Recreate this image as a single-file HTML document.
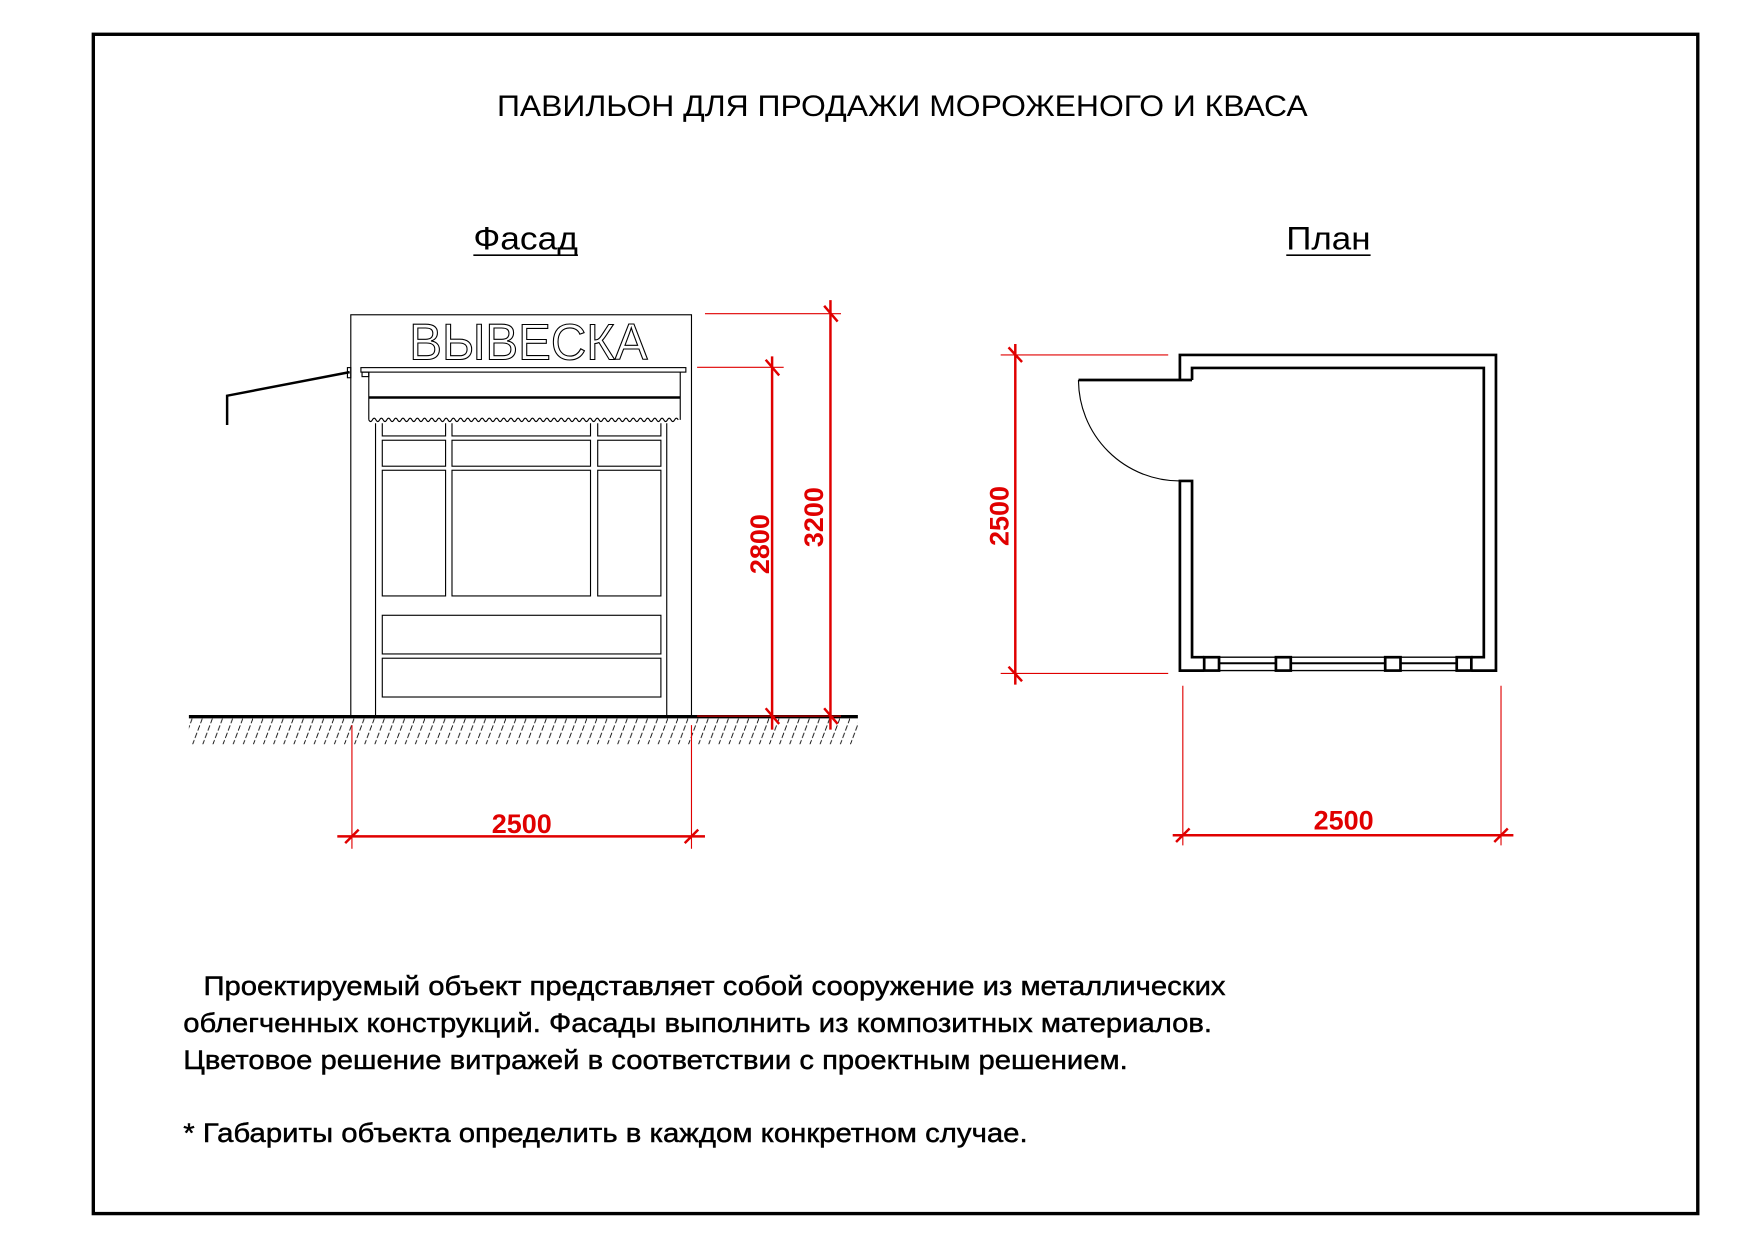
<!DOCTYPE html>
<html><head><meta charset="utf-8"><style>html,body{margin:0;padding:0;background:#fff}svg{display:block}</style></head>
<body>
<svg width="1754" height="1240" viewBox="0 0 1560 1103" preserveAspectRatio="none" xmlns="http://www.w3.org/2000/svg" font-family="'Liberation Sans Narrow','Liberation Sans',sans-serif">
<defs>
<pattern id="h" width="9" height="24" patternUnits="userSpaceOnUse" patternTransform="translate(0,639)">
<line x1="0" y1="24" x2="9" y2="0" stroke="#000" stroke-width="0.8" stroke-dasharray="5 2"/>
</pattern>
</defs>
<rect x="0" y="0" width="1560" height="1103" fill="#fff"/>
<rect x="83" y="30.5" width="1427" height="1049" fill="none" stroke="#000" stroke-width="3"/>
<text x="442" y="103" font-size="26" textLength="721" lengthAdjust="spacingAndGlyphs" font-family="'Liberation Sans',sans-serif">ПАВИЛЬОН ДЛЯ ПРОДАЖИ МОРОЖЕНОГО И КВАСА</text>
<text x="421" y="222" font-size="29" textLength="93" lengthAdjust="spacingAndGlyphs">Фасад</text>
<line x1="421" y1="227" x2="514" y2="227" stroke="#000" stroke-width="1.5"/>
<text x="1144" y="222" font-size="29" textLength="75" lengthAdjust="spacingAndGlyphs">План</text>
<line x1="1144" y1="227" x2="1219" y2="227" stroke="#000" stroke-width="1.5"/>

<!-- Facade -->
<g fill="none" stroke="#000" stroke-width="1">
<rect x="312" y="280" width="303" height="357"/>
<text x="364" y="320" font-size="45" textLength="212" lengthAdjust="spacingAndGlyphs" fill="#fff" stroke="#000" stroke-width="1" font-family="'Liberation Sans',sans-serif">ВЫВЕСКА</text>
<rect x="321" y="327" width="289" height="4" fill="#fff"/>
<rect x="322" y="331" width="6" height="4"/>
<rect x="309" y="327" width="3" height="9"/>
<path d="M328 331 V373.5 M605 331 V373.5"/>
<line x1="328" y1="353.6" x2="605" y2="353.6" stroke-width="2.2"/>
<path d="M328 373.5 q1.6 3 3.2 0 t3.2 0 t3.2 0 t3.2 0 t3.2 0 t3.2 0 t3.2 0 t3.2 0 t3.2 0 t3.2 0 t3.2 0 t3.2 0 t3.2 0 t3.2 0 t3.2 0 t3.2 0 t3.2 0 t3.2 0 t3.2 0 t3.2 0 t3.2 0 t3.2 0 t3.2 0 t3.2 0 t3.2 0 t3.2 0 t3.2 0 t3.2 0 t3.2 0 t3.2 0 t3.2 0 t3.2 0 t3.2 0 t3.2 0 t3.2 0 t3.2 0 t3.2 0 t3.2 0 t3.2 0 t3.2 0 t3.2 0 t3.2 0 t3.2 0 t3.2 0 t3.2 0 t3.2 0 t3.2 0 t3.2 0 t3.2 0 t3.2 0 t3.2 0 t3.2 0 t3.2 0 t3.2 0 t3.2 0 t3.2 0 t3.2 0 t3.2 0 t3.2 0 t3.2 0 t3.2 0 t3.2 0 t3.2 0 t3.2 0 t3.2 0 t3.2 0 t3.2 0 t3.2 0 t3.2 0 t3.2 0 t3.2 0 t3.2 0 t3.2 0 t3.2 0 t3.2 0 t3.2 0 t3.2 0 t3.2 0 t3.2 0 t3.2 0 t3.2 0 t3.2 0 t3.2 0 t3.2 0 t3.2 0 t3.2 0"/>
<path d="M311 331 L202 352 V378" stroke-width="2.2"/>
<path d="M334 376.5 V637 M593 376.5 V637"/>
<path d="M340 376.5 V387.8 H396.3 V376.5 M402 376.5 V387.8 H525.2 V376.5 M531.6 376.5 V387.8 H587.8 V376.5"/>
<rect x="340" y="391.6" width="56.3" height="23.1"/>
<rect x="402" y="391.6" width="123.2" height="23.1"/>
<rect x="531.6" y="391.6" width="56.2" height="23.1"/>
<rect x="340" y="418.3" width="56.3" height="111.8"/>
<rect x="402" y="418.3" width="123.2" height="111.8"/>
<rect x="531.6" y="418.3" width="56.2" height="111.8"/>
<rect x="340" y="547.3" width="247.8" height="34.4"/>
<rect x="340" y="585.5" width="247.8" height="34.5"/>
</g>
<rect x="168" y="639" width="595" height="23" fill="url(#h)"/>
<line x1="168" y1="637.5" x2="763" y2="637.5" stroke="#000" stroke-width="3"/>

<!-- Facade dims -->
<g stroke="#e00000" fill="none">
<line x1="627" y1="279" x2="748" y2="279" stroke-width="1"/>
<line x1="620" y1="326.7" x2="697" y2="326.7" stroke-width="1"/>
<line x1="620" y1="637" x2="748" y2="637" stroke-width="1"/>
<line x1="738.6" y1="267" x2="738.6" y2="649" stroke-width="2.2"/>
<line x1="686.7" y1="317" x2="686.7" y2="649" stroke-width="2.2"/>
<path d="M733 272 L745 286 M733 630 L745 644 M681 320 L693 334 M681 630 L693 644" stroke-width="2.2"/>
<line x1="313" y1="645" x2="313" y2="755" stroke-width="1"/>
<line x1="615" y1="645" x2="615" y2="755" stroke-width="1"/>
<line x1="300" y1="744" x2="627" y2="744" stroke-width="2.2"/>
<path d="M307 750 L319 738 M609 750 L621 738" stroke-width="2.2"/>
</g>
<g fill="#e00000" font-weight="bold" font-size="24">
<text x="464" y="741" text-anchor="middle">2500</text>
<text transform="translate(684,484) rotate(-90)" text-anchor="middle">2800</text>
<text transform="translate(732,460) rotate(-90)" text-anchor="middle">3200</text>
<text transform="translate(897,459) rotate(-90)" text-anchor="middle">2500</text>
<text x="1195" y="738" text-anchor="middle">2500</text>
</g>

<!-- Plan -->
<g fill="none" stroke="#000" stroke-width="2.4">
<path d="M1049.4 338 V315.7 H1330.5 V596.5 H1308.6"/>
<path d="M1071 596.5 H1049.4 V427.8 H1060.2 V584.6 H1071"/>
<path d="M1308.6 584.6 H1319.7 V327.3 H1060.2 V338"/>
<path d="M1060.2 338 H959.2"/>
<rect x="1071" y="584.6" width="13.2" height="11.9"/>
<rect x="1134.8" y="584.6" width="13.2" height="11.9"/>
<rect x="1232" y="584.6" width="13.6" height="11.9"/>
<rect x="1295.6" y="584.6" width="13" height="11.9"/>
</g>
<g fill="none" stroke="#000" stroke-width="1.2">
<path d="M1084.2 584.6 H1134.8 M1148 584.6 H1232 M1245.6 584.6 H1295.6"/>
<path d="M1084.2 590 H1134.8 M1148 590 H1232 M1245.6 590 H1295.6" stroke-width="1.8"/>
<path d="M1084.2 596.5 H1134.8 M1148 596.5 H1232 M1245.6 596.5 H1295.6"/>
<path d="M959.2 338 A90 90 0 0 0 1049.4 427.8" stroke-width="1"/>
</g>
<g stroke="#e00000" fill="none">
<line x1="890" y1="315.7" x2="1039" y2="315.7" stroke-width="1"/>
<line x1="890" y1="599" x2="1039" y2="599" stroke-width="1"/>
<line x1="903" y1="306" x2="903" y2="609" stroke-width="2.2"/>
<path d="M897 309 L909 322 M897 593 L909 606" stroke-width="2.2"/>
<line x1="1052" y1="610" x2="1052" y2="752" stroke-width="1"/>
<line x1="1335" y1="610" x2="1335" y2="752" stroke-width="1"/>
<line x1="1043" y1="743" x2="1346" y2="743" stroke-width="2.2"/>
<path d="M1046 749 L1058 737 M1329 749 L1341 737" stroke-width="2.2"/>
</g>

<!-- Notes -->
<g font-size="24" stroke="#000" stroke-width="0.4">
<text x="181" y="885" textLength="909" lengthAdjust="spacingAndGlyphs">Проектируемый объект представляет собой сооружение из металлических</text>
<text x="163" y="918" textLength="915" lengthAdjust="spacingAndGlyphs">облегченных конструкций. Фасады выполнить из композитных материалов.</text>
<text x="163" y="951" textLength="840" lengthAdjust="spacingAndGlyphs">Цветовое решение витражей в соответствии с проектным решением.</text>
<text x="163" y="1016" textLength="751" lengthAdjust="spacingAndGlyphs">* Габариты объекта определить в каждом конкретном случае.</text>
</g>
</svg>
</body></html>
